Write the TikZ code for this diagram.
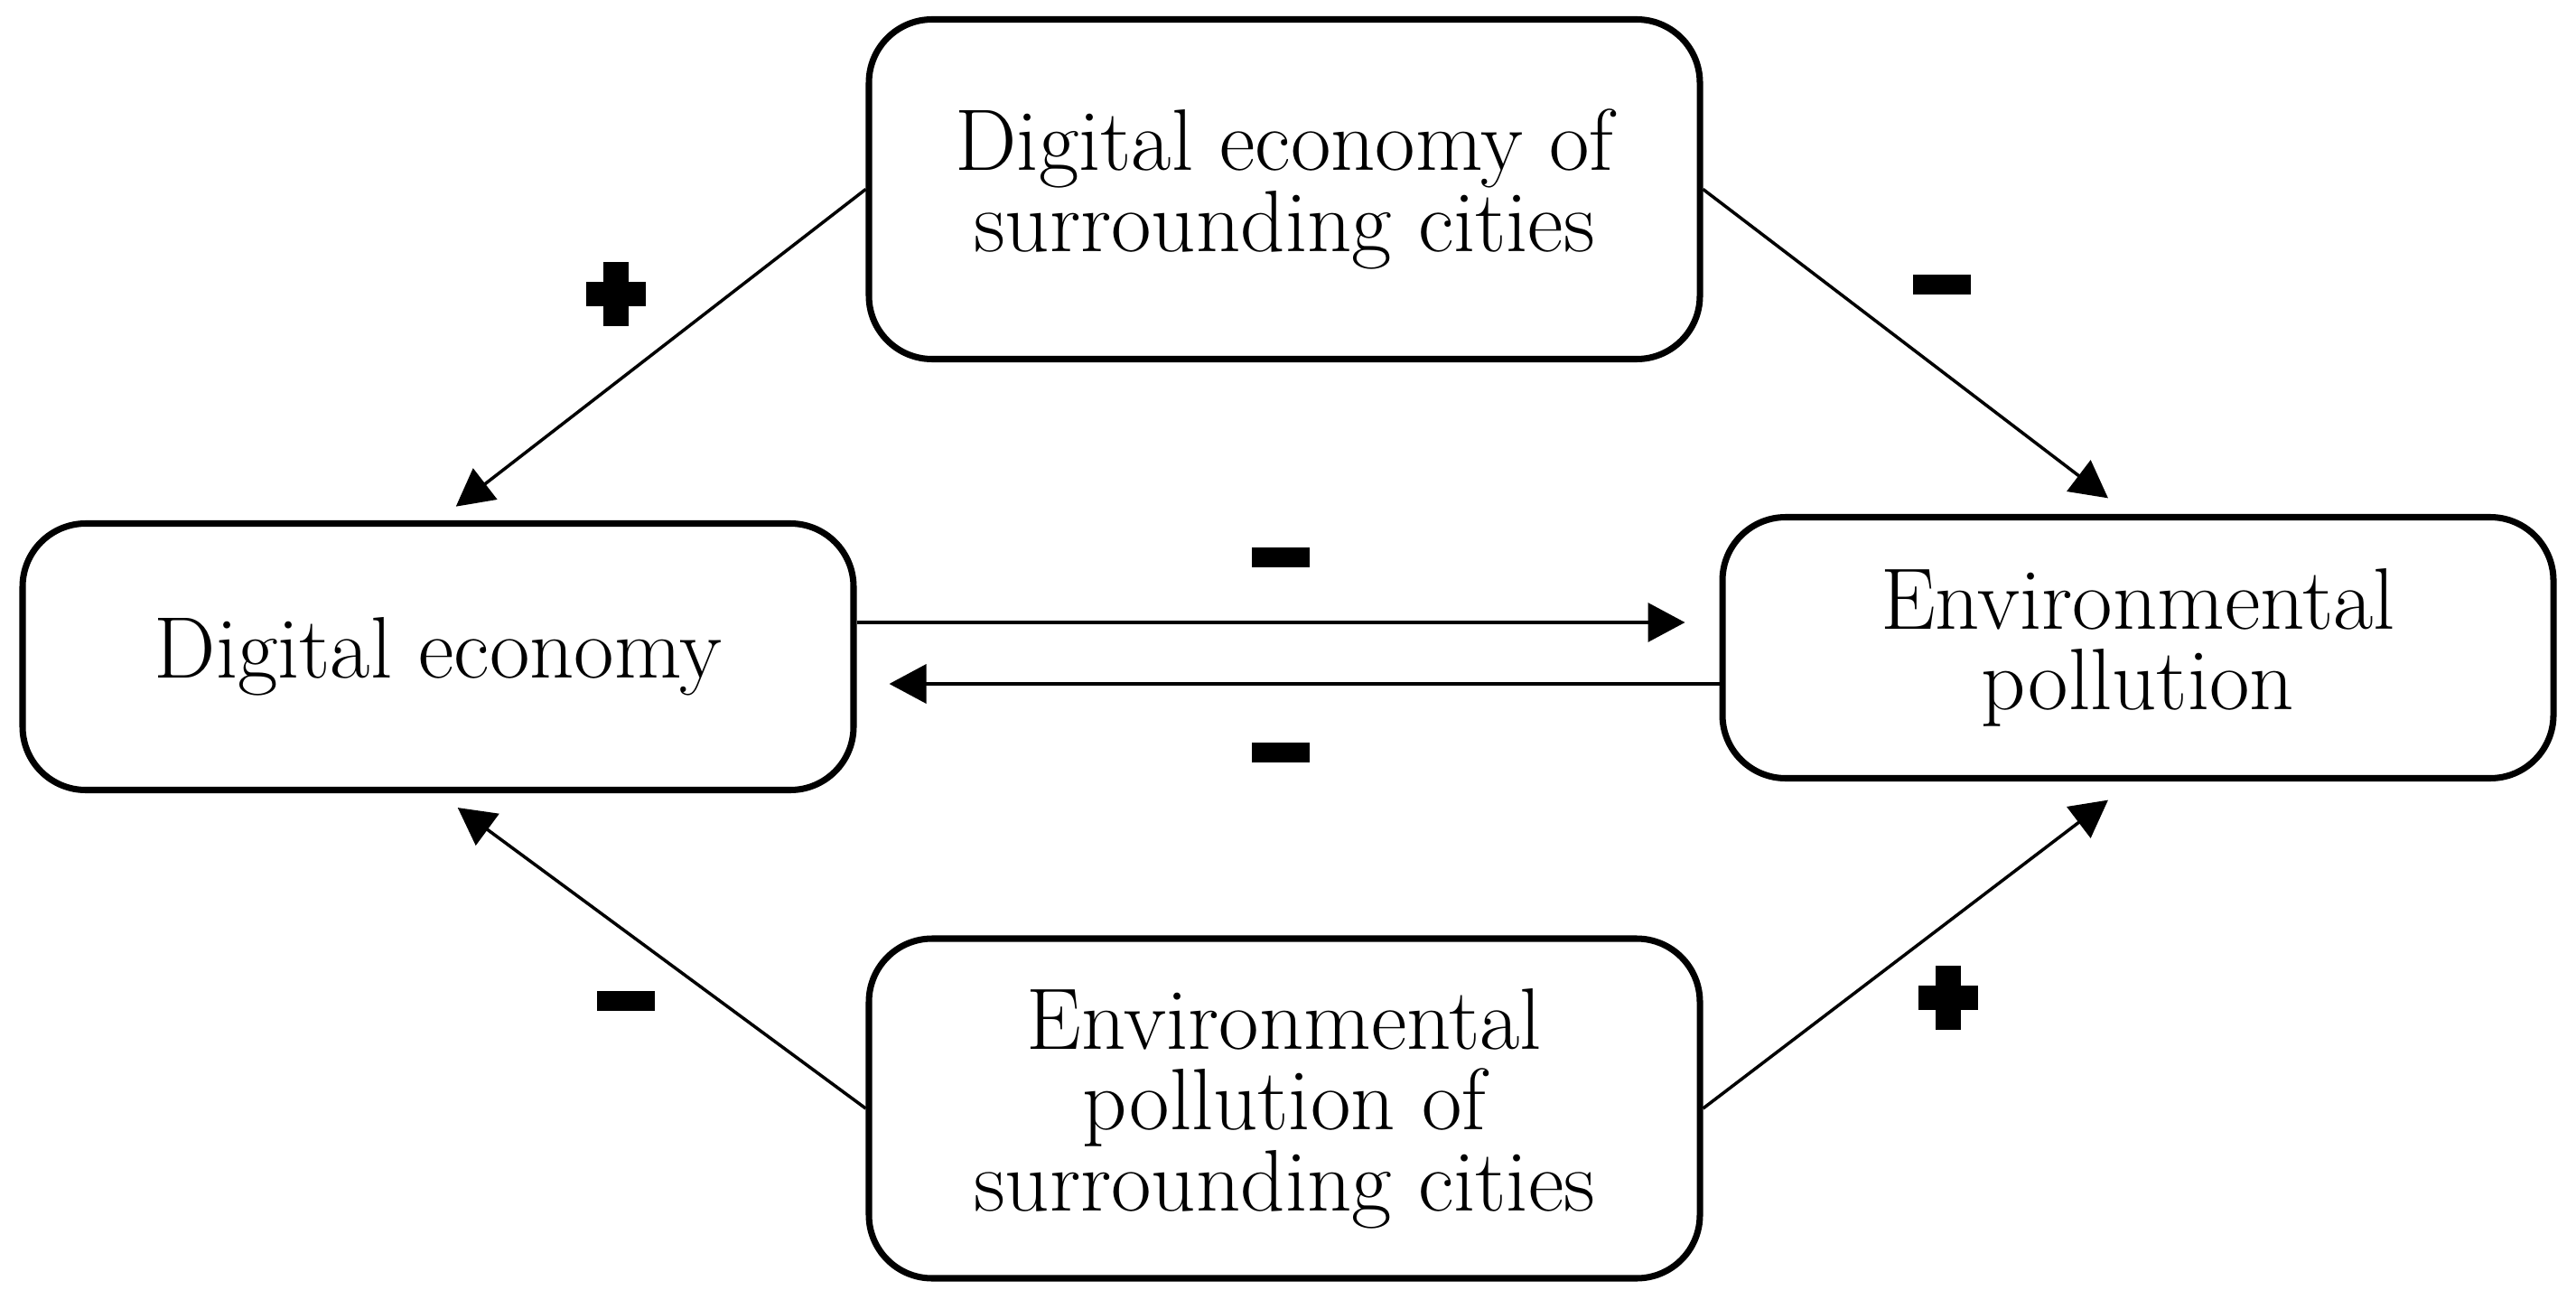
\documentclass[tikz,border=0pt]{standalone}
\usepackage{tikz}
\usetikzlibrary{arrows.meta, positioning}

\tikzset{
    factorbox/.style={draw=black, line width=2pt, rounded corners=0.7cm, align=center,
        minimum width=9.2cm, font=\fontsize{27.5}{25.5}\selectfont, inner sep=0pt},
    effect/.style={line width=1pt, -{Triangle[length=4.1mm, width=4.3mm]}}
}

\begin{document}
\begin{tikzpicture}
    \useasboundingbox (0,0) rectangle (28.52,14.48);

    % Boxes
    \node[factorbox, minimum height=3.76cm] (digsur) at (14.22,12.385) {Digital economy of\\surrounding cities};
    \node[factorbox, minimum height=2.95cm] (dig) at (4.85,7.21) {Digital economy};
    \node[factorbox, minimum height=2.89cm] (env) at (23.67,7.31) {Environmental\\pollution};
    \node[factorbox, minimum height=3.76cm] (envsur) at (14.22,2.21) {Environmental\\pollution of\\surrounding cities};

    % Effects
    \draw[effect, shorten >=2.5mm] (digsur.west) -- (dig.north);
    \draw[effect, shorten >=2.9mm] (digsur.east) -- ([xshift=-1mm]env.north);
    \draw[effect, shorten >=3.8mm] ([yshift=3.8mm]dig.east) -- ([yshift=3.8mm]dig.east -| env.west);
    \draw[effect, shorten >=3.6mm] ([yshift=-4mm]env.west) -- ([yshift=-4mm]env.west -| dig.east);
    \draw[effect, shorten >=2.7mm] (envsur.west) -- (dig.south);
    \draw[effect, shorten >=3.4mm] (envsur.east) -- ([xshift=-0.6mm]env.south);

    % Signs
    \foreach \x/\y in {21.50/11.33, 14.18/8.315, 14.175/6.15, 6.93/3.40} {
        \fill[black] (\x-0.32,\y-0.11) rectangle ++(0.64,0.22);
    }
    \foreach \x/\y in {6.82/11.225, 21.57/3.44} {
        \fill[black] (\x-0.33,\y-0.135) rectangle ++(0.66,0.27);
        \fill[black] (\x-0.14,\y-0.355) rectangle ++(0.28,0.71);
    }
\end{tikzpicture}
\end{document}
